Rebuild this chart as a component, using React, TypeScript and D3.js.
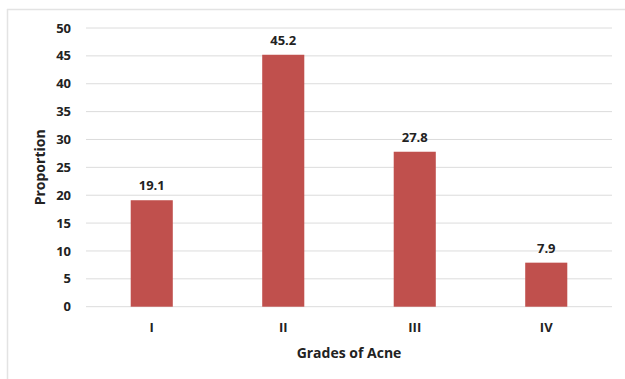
import React from "react";
import * as d3 from "d3";

const grades = ["I", "II", "III", "IV"];
const proportions = [19.1, 45.2, 27.8, 7.9];
const yTicks = [0, 5, 10, 15, 20, 25, 30, 35, 40, 45, 50];

const W = 625;
const H = 379;
const plot = { left: 86, right: 612, top: 28, bottom: 306.7 };
const font = "'Open Sans', 'Liberation Sans', sans-serif";
const barColor = "#C0504D";

export default function App() {
  const x = d3
    .scaleBand<string>()
    .domain(grades)
    .range([plot.left, plot.right])
    .paddingInner(0.68)
    .paddingOuter(0.34);
  const y = d3.scaleLinear().domain([0, 50]).range([plot.bottom, plot.top]);

  return (
    <svg
      width={W}
      height={H}
      style={{ position: "absolute", left: 0, top: 0, background: "#fff" }}
      fontFamily={font}
    >
      {/* chart frame */}
      <line x1={7} x2={W} y1={9.5} y2={9.5} stroke="#e3e3e3" strokeWidth={1.5} />
      <line x1={7.5} x2={7.5} y1={9} y2={H} stroke="#e3e3e3" strokeWidth={1.5} />

      {/* gridlines and y tick labels */}
      {yTicks.map((t) => (
        <g key={t}>
          <line
            x1={plot.left}
            x2={plot.right}
            y1={y(t)}
            y2={y(t)}
            stroke="#dcdcdc"
            strokeWidth={1}
          />
          <text
            x={71}
            y={y(t)}
            dy="0.35em"
            textAnchor="end"
            fontSize={13}
            fontWeight="bold"
            fill="#222"
          >
            {t}
          </text>
        </g>
      ))}

      {/* bars with value labels */}
      {grades.map((g, i) => (
        <g key={g}>
          <rect
            x={x(g)}
            y={y(proportions[i])}
            width={x.bandwidth()}
            height={y(0) - y(proportions[i])}
            fill={barColor}
          />
          <text
            x={(x(g) as number) + x.bandwidth() / 2}
            y={y(proportions[i]) - 10}
            textAnchor="middle"
            fontSize={13}
            fontWeight="bold"
            fill="#222"
          >
            {proportions[i]}
          </text>
          <text
            x={(x(g) as number) + x.bandwidth() / 2}
            y={332}
            textAnchor="middle"
            fontSize={13}
            fontWeight="bold"
            fill="#222"
          >
            {g}
          </text>
        </g>
      ))}

      {/* axis titles */}
      <text
        x={(plot.left + plot.right) / 2}
        y={358}
        textAnchor="middle"
        fontSize={14}
        fontWeight="bold"
        fill="#222"
      >
        Grades of Acne
      </text>
      <text
        transform={`translate(45, ${(plot.top + plot.bottom) / 2}) rotate(-90)`}
        textAnchor="middle"
        fontSize={14}
        fontWeight="bold"
        fill="#222"
      >
        Proportion
      </text>
    </svg>
  );
}
